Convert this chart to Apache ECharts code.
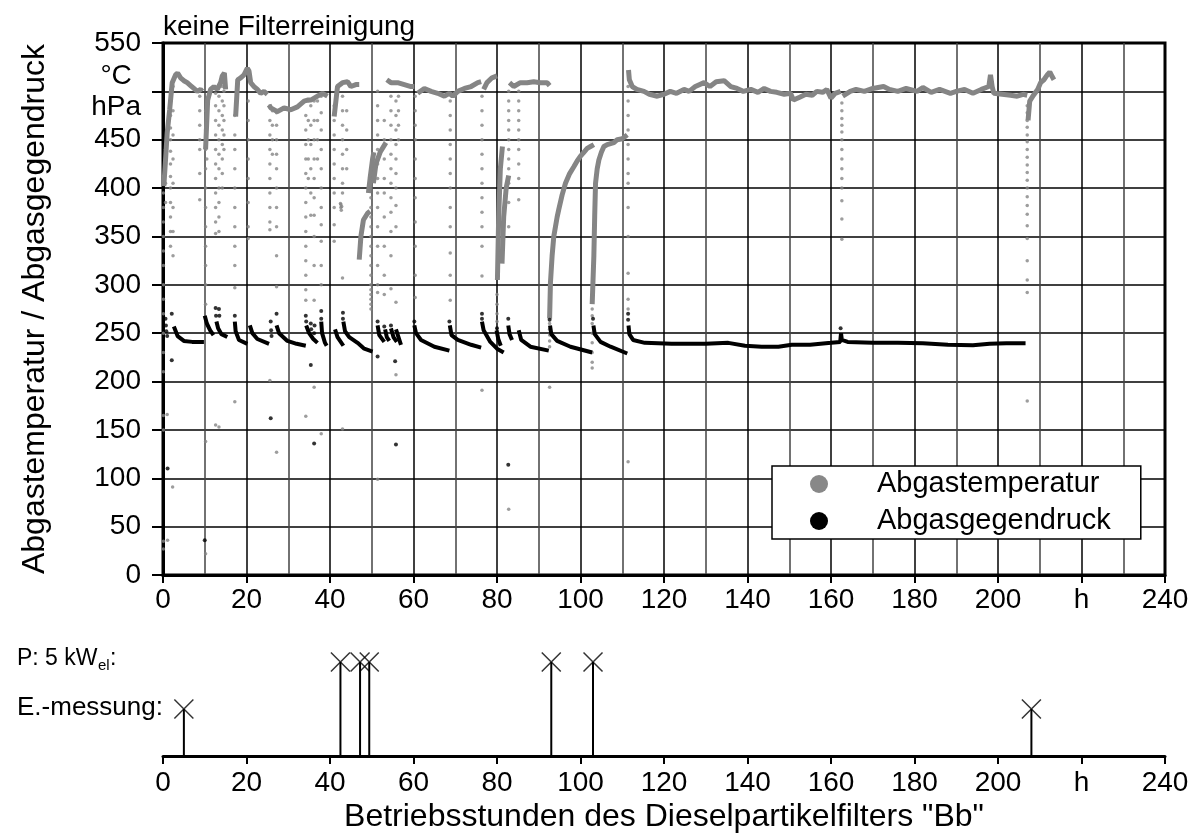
<!DOCTYPE html>
<html>
<head>
<meta charset="utf-8">
<script src="https://cdn.jsdelivr.net/npm/echarts@6/dist/echarts.min.js"></script>
<style>html,body{margin:0;padding:0;background:#fff;}#c{width:1199px;height:837px;}</style>
</head>
<body>
<div id="c"></div>
<script>
// ---- data (hours, value) ----
const xTicks = [0,20,40,60,80,100,120,140,160,180,200,'h',240];
const yTicks = [0,50,100,150,200,250,300,350,400,450,'°C hPa',550];

// Abgastemperatur: dense continuous stretches
const tempSegments = [
  [[0.2,402],[0.6,429],[1.0,457],[1.6,481],[2.2,509],[3.0,517],[3.5,519],[4.2,514],[5.0,511],[5.8,509],[6.6,506],[7.4,503],[8.2,500],[9.0,502],[9.4,500]],
  [[10.2,440],[10.7,491],[11.4,502],[12.2,505],[13.0,502],[13.8,509],[14.2,516],[14.7,519],[15.0,502]],
  [[17.4,474],[17.9,512],[18.6,514],[19.4,517],[20.2,524],[20.6,521],[21.0,509],[21.8,505],[22.6,502],[23.4,498],[24.2,500],[25.0,497]],
  [[25.4,486],[25.8,483],[27.4,479],[29.0,483],[30.6,481],[32.2,484],[33.8,490],[34.6,491],[35.4,491],[37.0,495],[38.2,498],[39.4,495]],
  [[41.0,474],[41.8,505],[43.0,509],[44.2,510],[45.0,505],[46.2,507],[47.0,507]],
  [[47.0,326],[47.4,350],[48.0,367],[49.0,374],[49.6,376]],
  [[49.2,395],[49.6,410],[50.2,430],[50.5,437]],
  [[50.4,405],[51.0,425],[52.0,437],[53.4,447]],
  [[53.6,512],[54.6,509],[56.2,509],[57.8,507],[59.4,505],[60.2,505]],
  [[61.0,498],[62.6,503],[64.2,500],[65.8,498],[67.4,495],[68.6,498],[69.4,495],[70.6,500],[72.2,503],[73.8,505],[75.4,509],[76.2,510]],
  [[76.8,502],[77.6,509],[78.8,514],[80.0,516]],
  [[83.0,509],[84.0,505],[85.6,509],[87.2,509],[88.8,510],[90.4,509],[92.0,509],[92.6,506]],
  [[80.1,305],[80.4,370],[80.8,420],[81.3,443]],
  [[81.2,322],[81.6,370],[82.2,400],[82.8,413]],
  [[92.6,265],[92.8,302],[93.2,330],[93.6,350],[94.4,370],[94.8,378],[95.6,393],[96.4,405],[97.4,415],[98.4,422],[99.2,428],[100.0,433],[100.8,437],[101.6,441],[102.4,443],[103.2,445]],
  [[102.8,280],[103.2,330],[103.4,371],[103.6,405],[104.0,420],[104.4,429],[105.0,437],[105.6,443],[106.4,445],[107.2,446],[108.0,447],[108.8,450],[110.0,451],[111.2,455]],
  [[111.5,522],[111.7,512],[112.4,505],[113.5,502],[115.2,500],[116.5,497],[118.4,495],[120.0,497],[121.5,500],[123.0,498],[124.8,502],[126.0,500],[127.5,505],[129.6,509],[131.0,505],[132.5,510],[134.4,511],[136.0,505],[137.5,503],[139.0,500],[140.8,502],[142.5,499],[144.0,503],[145.5,500],[147.0,499],[148.8,497],[150.3,498],[151.0,491],[152.5,494],[154.0,497],[155.5,496],[156.6,500],[158.0,499],[159.0,502],[160.0,493],[161.0,498],[162.3,500]],
  [[162.8,495],[164.6,500],[166.0,502],[168.0,500],[170.0,503],[172.6,505],[174.0,502],[176.0,500],[178.0,503],[180.6,500],[182.0,504],[184.0,499],[186.0,502],[188.6,498],[190.0,500],[192.0,502],[194.0,498],[196.0,502],[197.8,505],[198.2,517],[198.6,505],[199.0,498],[201.0,497],[203.0,496],[204.6,495],[206.0,497],[207.0,496]],
  [[207.2,470],[207.6,490],[208.5,496],[209.5,502],[210.2,509],[211.0,512],[211.8,517],[212.4,520],[213.0,515],[213.4,512]]
];

// Abgastemperatur: single readings (drops during start-up / shut-down)
const tempDots = [
  [0.1,395],[0.1,380],[0.1,365],[0.1,350],[0.1,335],[0.1,320],[0.1,300],[0.1,285],[0.1,270],[0.1,250],[0.1,230],[0.1,210],[0.1,165],[0.1,150],[0.1,35],[0.1,27],
  [0.6,440],[0.6,425],[0.6,405],[0.6,385],[1.0,166],[1.1,36],[2.3,91],
  [1.8,490],[1.8,475],[1.8,462],[1.8,450],[1.8,438],[1.8,425],[1.8,412],[1.8,400],[1.8,385],[1.8,370],[1.8,355],[1.8,340],
  [2.4,505],[2.4,480],[2.4,455],[2.4,430],[2.4,405],[2.4,380],[2.4,355],[2.4,330],
  [8.8,495],[8.8,480],[8.8,465],[8.8,450],[8.8,440],[8.8,415],[8.8,388],
  [10.2,480],[10.2,460],[10.2,440],[10.2,420],[10.2,400],[10.2,380],[10.2,360],[10.2,340],[10.2,320],[10.2,300],[10.2,280],[10.2,138],[10.2,22],
  [10.5,490],[10.5,470],[10.5,450],[10.5,430],
  [12.6,498],[12.6,485],[12.6,470],[12.6,455],[12.6,440],[12.6,425],[12.6,410],[12.6,395],[12.6,380],[12.6,365],[12.6,353],[12.6,155],
  [13.4,495],[13.4,480],[13.4,465],[13.4,450],[13.4,435],[13.4,420],[13.4,400],[13.4,385],[13.4,370],[13.4,355],[13.4,153],
  [14.2,505],[14.2,490],[14.2,475],[14.2,460],[14.2,445],[14.2,430],[14.2,415],[14.2,400],
  [14.6,500],[14.6,485],[14.6,470],[14.6,455],[14.6,440],
  [17.2,475],[17.2,455],[17.2,440],[17.2,420],[17.2,400],[17.2,380],[17.2,360],[17.2,340],[17.2,320],[17.2,297],[17.2,179],
  [20.4,490],[20.4,470],[20.4,450],[20.4,430],[20.4,410],[20.4,385],[20.4,360],[20.4,348],
  [25.6,485],[25.6,470],[25.6,455],[25.6,440],[25.6,425],[25.6,410],[25.6,395],[25.6,380],[25.6,365],[25.6,357],[25.6,201],
  [26.2,480],[26.2,465],[26.2,450],[26.2,435],
  [27.2,478],[27.2,465],[27.2,450],[27.2,435],[27.2,420],[27.2,400],[27.2,380],[27.2,360],[27.2,330],[27.2,298],[27.2,127],
  [34.2,490],[34.2,475],[34.2,460],[34.2,445],[34.2,430],[34.2,415],[34.2,400],[34.2,385],[34.2,370],[34.2,355],[34.2,340],[34.2,325],[34.2,310],[34.2,295],[34.2,284],[34.2,164],
  [34.8,490],[34.8,470],[34.8,450],[34.8,430],[34.8,410],
  [35.4,485],[35.4,465],[35.4,445],[35.4,420],[35.4,395],[35.4,372],
  [36.2,490],[36.2,470],[36.2,450],[36.2,430],[36.2,410],[36.2,390],[36.2,372],[36.2,350],[36.2,320],[36.2,284],[36.2,194],
  [37.0,490],[37.0,470],[37.0,450],[37.0,430],
  [37.9,495],[37.9,478],[37.9,460],[37.9,440],[37.9,420],[37.9,400],[37.9,380],[37.9,362],[37.9,345],[37.9,320],[37.9,300],[37.9,146],
  [41.0,485],[41.0,470],[41.0,455],[41.0,440],[41.0,425],[41.0,410],[41.0,395],[41.0,380],[41.0,362],[41.0,345],
  [42.5,384],[42.6,380],[42.7,377],[42.6,383],[42.8,381],
  [43.0,495],[43.0,480],[43.0,465],[43.0,450],[43.0,435],[43.0,420],[43.0,405],[43.0,395],[43.0,307],[43.0,151],
  [44.0,480],[44.0,460],[44.0,440],[44.0,420],
  [49.8,420],[49.8,410],[49.8,400],[49.8,390],[49.8,380],[49.8,370],[49.8,360],[49.8,350],[49.8,340],[49.8,330],[49.8,320],[49.8,310],[49.8,300],[49.8,295],[49.8,290],[49.8,285],[49.8,280],[49.8,275],
  [51.4,500],[51.4,485],[51.4,470],[51.4,455],[51.4,440],[51.4,425],[51.4,410],[51.4,395],[51.4,380],[51.4,360],[51.4,340],[51.4,320],[51.4,300],[51.4,292],[51.4,99],
  [53.0,470],[53.0,450],[53.0,430],[53.0,410],[53.0,395],[53.0,370],[53.0,340],[53.0,310],[53.0,290],
  [54.6,495],[54.6,480],[54.6,465],[54.6,450],[54.6,435],[54.6,420],[54.6,405],[54.6,390],[54.6,375],[54.6,355],[54.6,330],[54.6,296],
  [55.8,490],[55.8,475],[55.8,460],[55.8,445],[55.8,430],[55.8,415],[55.8,400],[55.8,382],[55.8,360],[55.8,282],[55.8,207],
  [56.4,495],[56.4,480],[56.4,465],[56.4,450],
  [60.4,495],[60.4,480],[60.4,465],[60.4,450],[60.4,430],[60.4,410],[60.4,390],[60.4,365],[60.4,340],[60.4,310],[60.4,287],
  [68.8,490],[68.8,475],[68.8,460],[68.8,445],[68.8,430],[68.8,415],[68.8,400],[68.8,380],[68.8,360],[68.8,333],[68.8,310],[68.8,284],
  [76.4,495],[76.4,480],[76.4,465],[76.4,450],[76.4,435],[76.4,420],[76.4,405],[76.4,390],[76.4,375],[76.4,360],[76.4,340],[76.4,309],[76.4,191],
  [80.0,290],[80.0,280],[80.0,270],[80.0,262],
  [82.8,500],[82.8,490],[82.8,480],[82.8,470],[82.8,460],[82.8,450],[82.8,440],[82.8,430],[82.8,420],[82.8,405],[82.8,385],[82.8,360],[82.8,68],
  [85.2,500],[85.2,490],[85.2,480],[85.2,470],[85.2,460],[85.2,450],[85.2,440],[85.2,425],[85.2,410],[85.2,388],
  [92.6,260],[92.6,254],[92.6,248],[92.6,242],[92.6,236],[92.6,194],
  [102.8,275],[102.8,268],[102.8,260],[102.8,250],[102.8,240],[102.8,230],[102.8,220],[102.8,214],
  [111.4,505],[111.4,490],[111.4,475],[111.4,460],[111.4,445],[111.4,430],[111.4,415],[111.4,405],[111.4,380],[111.4,350],[111.4,312],[111.4,285],[111.4,275],[111.4,117],
  [162.6,488],[162.6,480],[162.6,472],[162.6,465],[162.6,458],[162.6,450],[162.6,440],[162.6,430],[162.6,420],[162.6,410],[162.6,400],[162.6,387],[162.6,368],[162.6,347],
  [207.0,485],[207.0,478],[207.0,470],[207.0,463],[207.0,455],[207.0,448],[207.0,440],[207.0,432],[207.0,424],[207.0,416],[207.0,408],[207.0,400],[207.0,391],[207.0,382],[207.0,373],[207.0,361],[207.0,348],[207.0,325],[207.0,305],[207.0,292],[207.0,180]
];

// Abgasgegendruck: continuous stretches
const pressSegments = [
  [[2.6,257],[3.5,247],[5.0,242],[7.0,241],[9.8,241]],
  [[10.0,268],[10.5,260],[11.3,253],[12.1,248]],
  [[12.8,262],[13.2,255],[14.0,249],[15.4,246]],
  [[17.2,262],[17.4,252],[18.2,243],[20.2,239]],
  [[20.8,258],[21.4,250],[22.6,244],[25.4,239]],
  [[27.2,258],[27.8,250],[29.8,242],[32.0,239],[34.2,237]],
  [[34.3,258],[35.0,250],[36.0,244],[37.0,240]],
  [[37.9,262],[38.1,250],[38.8,240],[39.2,237]],
  [[41.2,254],[41.8,246],[43.2,237]],
  [[43.2,262],[43.6,252],[44.6,246],[46.6,240],[48.2,234],[50.2,231]],
  [[51.4,258],[51.8,248],[53.0,241]],
  [[53.2,254],[53.6,246],[54.2,242]],
  [[54.6,255],[55.2,246],[56.0,241]],
  [[55.8,254],[56.4,246],[57.0,238]],
  [[60.2,258],[60.6,250],[61.8,243],[65.0,236],[68.6,232]],
  [[68.7,258],[69.1,248],[70.6,243],[73.8,238],[76.2,235]],
  [[76.4,262],[76.8,253],[78.4,241],[80.0,234],[81.6,230]],
  [[79.9,253],[80.3,244],[80.9,237]],
  [[82.7,258],[83.0,249],[83.6,243]],
  [[85.2,253],[85.8,243],[88.0,236],[92.4,232]],
  [[92.7,258],[93.0,249],[94.4,242],[97.6,236],[102.8,230]],
  [[103.1,258],[103.4,249],[104.8,241],[107.2,236],[111.2,229]],
  [[111.5,258],[111.7,249],[112.6,243],[115.4,240],[121.8,239],[130.0,239],[135.4,240],[139.4,237],[143.4,236],[147.4,236],[150.6,238],[155.0,238],[160.0,240],[162.2,241],[162.4,250],[162.6,243],[164.0,241],[170.0,240],[176.0,240],[182.0,239.5],[188.0,238],[194.0,237.5],[198.0,239],[202.0,239.5],[206.6,239.5]]
];

// Abgasgegendruck: single readings
const pressDots = [
  [0.6,265],[0.7,258],[0.8,252],[1.0,247],[1.1,110],[2.1,270],[2.1,222],[10.0,36],[12.6,276],[12.7,268],[13.4,275],[13.5,268],
  [17.2,268],[25.8,262],[25.9,253],[26.0,247],[25.8,162],[27.2,270],[34.2,268],[34.3,262],[35.4,260],[35.5,254],[35.4,217],
  [36.3,258],[36.2,250],[36.2,136],[37.9,273],[37.9,265],[43.1,271],[43.1,265],[51.4,262],[51.4,226],[53.0,257],[54.6,258],
  [55.6,221],[55.8,135],[60.2,262],[68.6,262],[76.4,270],[76.4,265],[80.0,255],[82.7,265],[82.7,114],[92.6,264],[103.0,265],
  [111.4,270],[111.4,264],[162.3,255]
];

// events in the lower strip (hours)
const eventsP = [42.5, 47.2, 49.4, 93, 103];   // P: 5 kWel
const eventsE = [5, 208];                       // E.-messung

const FONT = 'Liberation Sans';
const GRAY = '#858585';

const chart = echarts.init(document.getElementById('c'), null, {renderer: 'canvas'});

const xLabelFmt = v => (v === 220 ? xTicks[11] : String(v));

const series = [];
tempSegments.forEach(seg => series.push({
  type: 'line', name: 'Abgastemperatur', data: seg, xAxisIndex: 0, yAxisIndex: 0,
  symbol: 'none', lineStyle: {color: GRAY, width: 5}, itemStyle: {color: GRAY}, z: 2, silent: true
}));
series.push({
  type: 'scatter', name: 'Abgastemperatur', data: tempDots, xAxisIndex: 0, yAxisIndex: 0,
  symbolSize: 3.5, itemStyle: {color: GRAY}, z: 2, silent: true
});
pressSegments.forEach(seg => series.push({
  type: 'line', name: 'Abgasgegendruck', data: seg, xAxisIndex: 0, yAxisIndex: 0,
  symbol: 'none', lineStyle: {color: '#000', width: 4}, itemStyle: {color: '#000'}, z: 3, silent: true
}));
series.push({
  type: 'scatter', name: 'Abgasgegendruck', data: pressDots, xAxisIndex: 0, yAxisIndex: 0,
  symbolSize: 4, itemStyle: {color: '#000'}, z: 3, silent: true
});
// lower strip stems and crosses
const eventData = eventsE.map(h => [h, 1]).concat(eventsP.map(h => [h, 2]));
series.push({
  type: 'bar', data: eventData, xAxisIndex: 1, yAxisIndex: 1, barWidth: 2,
  itemStyle: {color: '#000'}, silent: true
});
series.push({
  type: 'scatter', data: eventData, xAxisIndex: 1, yAxisIndex: 1,
  symbol: 'path://M0 0L10 10M10 0L0 10', symbolSize: 19,
  itemStyle: {color: 'none', borderColor: '#000', borderWidth: 1.5}, silent: true, z: 5
});

const option = {
  animation: false,
  backgroundColor: '#fff',
  textStyle: {fontFamily: FONT},
  graphic: [
    {type: 'text', left: 163, top: 13, style: {text: 'keine Filterreinigung', font: '28px "Liberation Sans"', fill: '#000'}},
    {type: 'text', left: 17, top: 647, style: {text: 'P: 5 kW', font: '23px "Liberation Sans"', fill: '#000'}},
    {type: 'text', left: 98, top: 658, style: {text: 'el', font: '15px "Liberation Sans"', fill: '#000'}},
    {type: 'text', left: 110, top: 647, style: {text: ':', font: '23px "Liberation Sans"', fill: '#000'}},
    {type: 'text', left: 17, top: 695, style: {text: 'E.-messung:', font: '26px "Liberation Sans"', fill: '#000'}}
  ],
  legend: {
    left: 772, top: 466, orient: 'vertical', selectedMode: false,
    backgroundColor: '#fff', borderColor: '#000', borderWidth: 1.5,
    padding: [3, 30, 3, 38], itemWidth: 18, itemHeight: 18, itemGap: 7,
    textStyle: {fontSize: 29, color: '#000', fontFamily: FONT, lineHeight: 30, padding: [0, 0, 0, 44]},
    data: [
      {name: 'Abgastemperatur', icon: 'circle', itemStyle: {color: '#888', borderWidth: 0}},
      {name: 'Abgasgegendruck', icon: 'circle', itemStyle: {color: '#000', borderWidth: 0}}
    ]
  },
  grid: [
    {left: 163, right: 34, top: 43, height: 532, show: true, borderColor: '#000', borderWidth: 3, backgroundColor: 'transparent'},
    {left: 163, right: 34, top: 638.5, height: 117.5}
  ],
  xAxis: [
    {
      type: 'value', gridIndex: 0, min: 0, max: 240, interval: 20,
      axisLine: {show: true, lineStyle: {color: '#000', width: 3}},
      axisTick: {show: true, length: 8, lineStyle: {color: '#000', width: 2}},
      axisLabel: {fontSize: 28, color: '#000', margin: 11, fontFamily: FONT, formatter: xLabelFmt, showMinLabel: true, showMaxLabel: true},
      splitLine: {show: true, lineStyle: {color: '#000', width: 1.5}},
      minorTick: {show: false, splitNumber: 2},
      minorSplitLine: {show: true, lineStyle: {color: '#444', width: 1.5}}
    },
    {
      type: 'value', gridIndex: 1, min: 0, max: 240, interval: 20,
      axisLine: {show: true, lineStyle: {color: '#000', width: 3}},
      axisTick: {show: true, length: 8, lineStyle: {color: '#000', width: 2}},
      axisLabel: {fontSize: 28, color: '#000', margin: 13, fontFamily: FONT, formatter: xLabelFmt, showMinLabel: true, showMaxLabel: true},
      splitLine: {show: false},
      name: 'Betriebsstunden des Dieselpartikelfilters "Bb"', nameLocation: 'middle', nameGap: 45,
      nameTextStyle: {fontSize: 32, color: '#000', fontFamily: FONT}
    }
  ],
  yAxis: [
    {
      type: 'value', gridIndex: 0, min: 0, max: 550, interval: 50,
      axisLine: {show: true, lineStyle: {color: '#000', width: 3}},
      axisTick: {show: true, length: 11, lineStyle: {color: '#000', width: 2}},
      axisLabel: {
        fontSize: 28, color: '#000', margin: 22, fontFamily: FONT,
        formatter: v => (v === 500 ? '{u|°C}\n{u|hPa}' : String(v)),
        rich: {u: {fontSize: 28, lineHeight: 31, align: 'center', fontFamily: FONT, color: '#000'}}
      },
      splitLine: {show: true, lineStyle: {color: '#000', width: 1.5}},
      name: 'Abgastemperatur / Abgasgegendruck', nameLocation: 'middle', nameGap: 112,
      nameTextStyle: {fontSize: 32, color: '#000', fontFamily: FONT}
    },
    {type: 'value', gridIndex: 1, min: 0, max: 2.5, show: false}
  ],
  series: series
};
chart.setOption(option);
</script>
</body>
</html>
